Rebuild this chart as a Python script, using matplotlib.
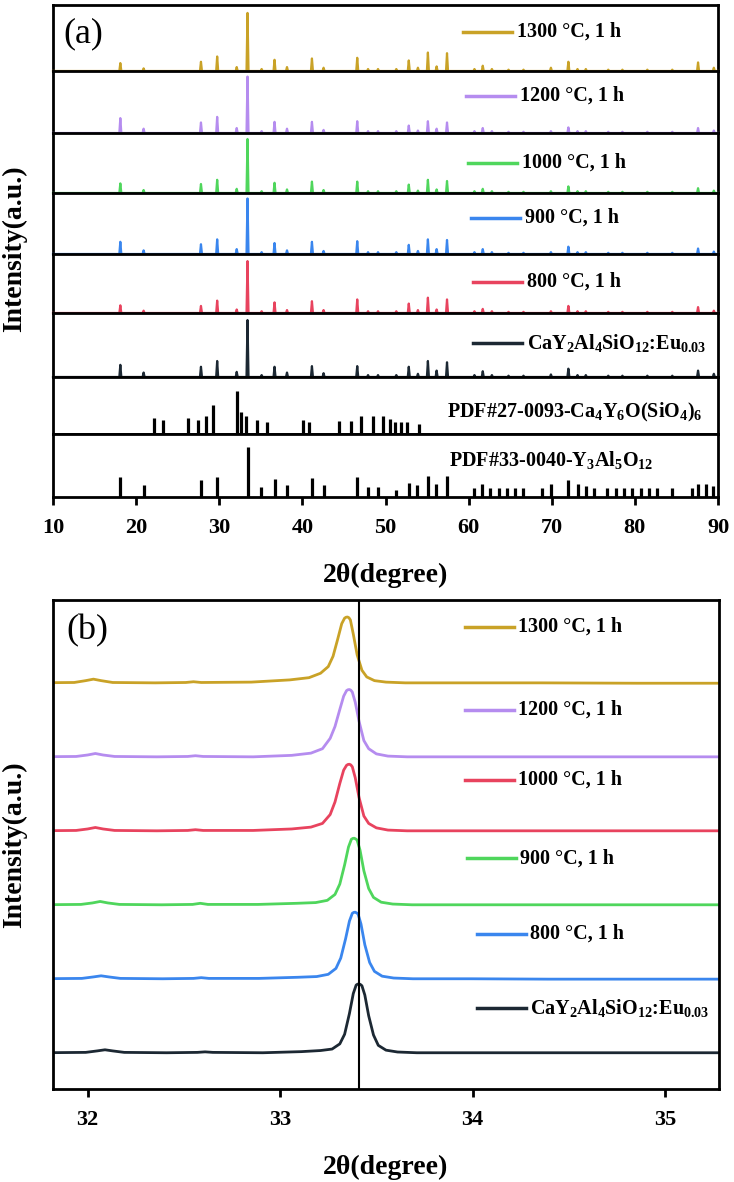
import matplotlib.pyplot as plt

plt.rcParams['font.family'] = 'Liberation Serif'
plt.rcParams['font.weight'] = 'bold'
plt.rcParams['axes.labelweight'] = 'bold'
plt.rcParams['mathtext.fontset'] = 'custom'
plt.rcParams['mathtext.rm'] = 'Liberation Serif:bold'
plt.rcParams['mathtext.default'] = 'regular'

# ---- (a) full XRD patterns ----
# peak positions (2theta) shared by the measured samples
peak_pos = [18.1, 20.9, 27.8, 29.75, 32.1, 33.4, 35.1, 36.65, 38.15, 41.15, 42.55, 46.6,
            47.9, 49.1, 51.3, 52.8, 53.9, 55.1, 56.15, 57.4, 60.7, 61.7, 62.8, 64.8,
            66.6, 69.9, 72.0, 73.1, 74.1, 76.8, 78.5, 81.5, 84.5, 87.6, 89.5]
# relative peak heights per sample (fraction of strip height)
h_1300 = [0.12, 0.04, 0.14, 0.22, 0.06, 0.88, 0.03, 0.17, 0.06, 0.19, 0.05, 0.2, 0.03, 0.03,
          0.03, 0.16, 0.05, 0.28, 0.07, 0.27, 0.03, 0.08, 0.03, 0.02, 0.02, 0.05, 0.14, 0.03,
          0.03, 0.02, 0.02, 0.02, 0.02, 0.13, 0.05]
h_1200 = [0.24, 0.07, 0.17, 0.26, 0.08, 0.91, 0.03, 0.18, 0.07, 0.18, 0.05, 0.19, 0.03, 0.03,
          0.03, 0.12, 0.04, 0.19, 0.07, 0.17, 0.03, 0.08, 0.03, 0.02, 0.02, 0.03, 0.09, 0.03,
          0.03, 0.02, 0.02, 0.02, 0.02, 0.08, 0.04]
h_1000 = [0.16, 0.05, 0.15, 0.22, 0.07, 0.9, 0.03, 0.17, 0.06, 0.19, 0.05, 0.19, 0.03, 0.03,
          0.03, 0.14, 0.04, 0.22, 0.06, 0.2, 0.03, 0.07, 0.03, 0.02, 0.02, 0.03, 0.11, 0.03,
          0.03, 0.02, 0.02, 0.02, 0.02, 0.08, 0.04]
h_900 = [0.2, 0.06, 0.16, 0.24, 0.08, 0.91, 0.03, 0.18, 0.06, 0.2, 0.05, 0.21, 0.03, 0.03,
         0.03, 0.15, 0.05, 0.24, 0.08, 0.23, 0.03, 0.08, 0.03, 0.02, 0.02, 0.03, 0.12, 0.03,
         0.03, 0.02, 0.02, 0.02, 0.02, 0.09, 0.04]
h_800 = [0.13, 0.04, 0.12, 0.21, 0.06, 0.88, 0.03, 0.18, 0.05, 0.2, 0.05, 0.23, 0.03, 0.03,
         0.03, 0.16, 0.05, 0.26, 0.06, 0.23, 0.03, 0.07, 0.03, 0.02, 0.02, 0.03, 0.12, 0.03,
         0.03, 0.02, 0.02, 0.02, 0.02, 0.1, 0.04]
h_base = [0.19, 0.07, 0.16, 0.25, 0.08, 0.89, 0.03, 0.16, 0.07, 0.17, 0.06, 0.17, 0.03, 0.03,
          0.03, 0.16, 0.05, 0.25, 0.1, 0.23, 0.03, 0.09, 0.03, 0.02, 0.02, 0.04, 0.13, 0.03,
          0.03, 0.02, 0.02, 0.02, 0.02, 0.1, 0.05]

# standard cards (stick patterns)
pdf27_pos = [22.1, 23.2, 26.3, 27.5, 28.4, 29.2, 32.1, 32.6, 33.2, 34.6, 35.8, 40.1, 40.8,
             44.4, 45.8, 47.0, 48.5, 49.7, 50.5, 51.2, 51.9, 52.6, 54.0]
pdf27_h = [0.28, 0.25, 0.28, 0.25, 0.32, 0.51, 0.75, 0.39, 0.32, 0.25, 0.21, 0.25, 0.21,
           0.23, 0.23, 0.32, 0.32, 0.32, 0.26, 0.21, 0.21, 0.21, 0.18]
pdf33_pos = [18.1, 20.9, 27.8, 29.75, 33.4, 35.05, 36.65, 38.15, 41.15, 42.55, 46.6, 47.9,
             49.1, 51.3, 52.8, 53.8, 55.1, 56.1, 57.4, 60.6, 61.6, 62.6, 63.6, 64.6, 65.6,
             66.6, 68.8, 69.9, 72.0, 73.1, 74.1, 75.1, 76.7, 77.7, 78.7, 79.7, 80.7, 81.7,
             82.7, 84.5, 86.9, 87.6, 88.6, 89.4]
pdf33_h = [0.32, 0.19, 0.27, 0.32, 0.79, 0.16, 0.29, 0.19, 0.3, 0.19, 0.32, 0.16, 0.16, 0.11,
           0.22, 0.19, 0.33, 0.21, 0.33, 0.14, 0.21, 0.14, 0.14, 0.14, 0.14, 0.14, 0.14, 0.21,
           0.27, 0.21, 0.17, 0.14, 0.14, 0.14, 0.14, 0.14, 0.14, 0.14, 0.14, 0.14, 0.14, 0.21,
           0.21, 0.17]

labels_a = ['1300 °C, 1 h', '1200 °C, 1 h', '1000 °C, 1 h', '900 °C, 1 h', '800 °C, 1 h',
            'CaY$_2$Al$_4$SiO$_{12}$:Eu$_{0.03}$']
colors_a = ['#C9A227', '#B58CEF', '#4FD65C', '#3A86EE', '#E8435E', '#1C2833']
heights_a = [h_1300, h_1200, h_1000, h_900, h_800, h_base]

# ---- (b) zoom on the strongest reflection ----
dx_b = [-1.65, -1.42, -1.36, -1.32, -1.28, -1.22, -1.0, -0.84, -0.8, -0.76, -0.5, -0.3,
        -0.2, -0.14, -0.1, -0.075, -0.05, -0.03, -0.015, -0.0075, 0, 0.0075, 0.015, 0.03,
        0.05, 0.075, 0.1, 0.14, 0.2, 0.3, 0.6, 1.0, 1.5, 2.0]
centers_b = [33.35, 33.36, 33.36, 33.385, 33.39, 33.41]
y_1300 = [0, 0.005, 0.03, 0.05, 0.03, 0.005, 0, 0.005, 0.015, 0.005, 0.01, 0.04, 0.07, 0.13,
          0.22, 0.36, 0.6, 0.8, 0.875, 0.887, 0.89, 0.88, 0.85, 0.66, 0.38, 0.17, 0.08, 0.03,
          0.01, 0, 0, 0, -0.005, -0.005]
y_1200 = [0, 0.005, 0.025, 0.045, 0.025, 0.005, 0, 0.005, 0.015, 0.005, 0, 0.02, 0.05, 0.11,
          0.25, 0.41, 0.64, 0.82, 0.895, 0.907, 0.91, 0.9, 0.875, 0.74, 0.48, 0.22, 0.11,
          0.04, 0.01, 0, 0, 0, 0, 0]
y_1000 = [0, 0.005, 0.025, 0.045, 0.025, 0.005, 0, 0.005, 0.015, 0.005, 0.005, 0.025, 0.05,
          0.1, 0.22, 0.39, 0.64, 0.82, 0.885, 0.897, 0.9, 0.89, 0.865, 0.72, 0.45, 0.2, 0.1,
          0.04, 0.01, 0, 0, 0, 0, 0]
y_900 = [0, 0.005, 0.025, 0.045, 0.025, 0.005, 0, 0.005, 0.02, 0.005, 0.005, 0.02, 0.03, 0.06,
         0.14, 0.28, 0.54, 0.78, 0.885, 0.897, 0.9, 0.89, 0.875, 0.74, 0.46, 0.22, 0.1, 0.035,
         0.01, 0, 0, 0, 0, 0]
y_800 = [0, 0.005, 0.025, 0.04, 0.025, 0.005, 0, 0.005, 0.015, 0.005, 0.005, 0.02, 0.03, 0.06,
         0.14, 0.28, 0.54, 0.78, 0.885, 0.897, 0.9, 0.89, 0.875, 0.74, 0.46, 0.22, 0.1, 0.035,
         0.01, 0, 0, -0.005, -0.005, -0.005]
y_base = [0, 0.005, 0.025, 0.04, 0.025, 0.005, 0, 0.005, 0.012, 0.005, 0, 0.015, 0.03, 0.05,
          0.12, 0.25, 0.53, 0.8, 0.915, 0.927, 0.93, 0.922, 0.905, 0.78, 0.5, 0.24, 0.1, 0.035,
          0.01, 0, 0, 0, 0, 0]
labels_b = ['1300 °C, 1 h', '1200 °C, 1 h', '1000 °C, 1 h', '900 °C, 1 h', '800 °C, 1 h',
            'CaY$_2$Al$_4$SiO$_{12}$:Eu$_{0.03}$']
colors_b = ['#C9A227', '#B58CEF', '#E8435E', '#4FD65C', '#3A86EE', '#1C2833']
curves_b = [y_1300, y_1200, y_1000, y_900, y_800, y_base]
ref_line = 33.41

W, H = 734, 1182
fig = plt.figure(figsize=(W / 100, H / 100), dpi=100)

# strip boundaries of panel (a) in pixels
bounds = [5, 71, 133, 193, 254, 313, 377, 434, 497]
left, right = 53, 718
axes_a = []
for k in range(8):
    ax = fig.add_axes([left / W, 1 - bounds[k + 1] / H, (right - left) / W,
                       (bounds[k + 1] - bounds[k]) / H])
    ax.set_xlim(10, 90)
    ax.set_ylim(0, 1)
    ax.set_yticks([])
    for s in ax.spines.values():
        s.set_linewidth(2)
    if k < 7:
        ax.set_xticks([])
    axes_a.append(ax)

# measured patterns
leg_y = [0.59, 0.6, 0.5, 0.59, 0.53, 0.53]
leg_x = [517, 520, 522, 525, 527, 527]
for k in range(6):
    ax = axes_a[k]
    xs, ys = [10], [0]
    for p, h in zip(peak_pos, heights_a[k]):
        xs += [p - 0.12, p, p + 0.12]
        ys += [0, h, 0]
    xs.append(90)
    ys.append(0)
    ax.plot(xs, ys, color=colors_a[k], lw=1.6, clip_on=False, zorder=3)
    x0 = (leg_x[k] - 53) / (right - left)
    ax.plot([x0 - 0.081, x0 - 0.007], [leg_y[k], leg_y[k]], color=colors_a[k], lw=2.5,
            transform=ax.transAxes)
    ax.text(x0, leg_y[k], labels_a[k], transform=ax.transAxes, fontsize=14.5,
            va='center', ha='left')

# stick patterns
axes_a[6].vlines(pdf27_pos, 0, pdf27_h, color='black', lw=2.3)
axes_a[6].text((447 - 53) / (right - left), 0.37, 'PDF#27-0093-Ca$_4$Y$_6$O(SiO$_4$)$_6$',
               transform=axes_a[6].transAxes, fontsize=14.5, va='center', ha='left')
axes_a[7].vlines(pdf33_pos, 0, pdf33_h, color='black', lw=2.3)
axes_a[7].text((449 - 53) / (right - left), 0.59, 'PDF#33-0040-Y$_3$Al$_5$O$_{12}$',
               transform=axes_a[7].transAxes, fontsize=14.5, va='center', ha='left')

axb = axes_a[7]
axb.set_xticks(range(10, 91, 10))
axb.tick_params(axis='x', direction='out', length=6, width=2, labelsize=16, pad=9)
axb.set_xlabel('2θ(degree)', fontsize=20, fontweight='bold', labelpad=18)
axes_a[0].text(0.015, 0.57, '(a)', transform=axes_a[0].transAxes, fontsize=26,
               fontweight='normal', va='center', ha='left')
fig.text(15 / W, 1 - 249 / H, 'Intensity(a.u.)', rotation=90, fontsize=20,
         va='center', ha='center')

# ---- panel (b) ----
ax2 = fig.add_axes([53 / W, 1 - 1089 / H, 666 / W, 489 / H])
for k in range(6):
    off = 5 - k
    xs = [centers_b[k] + d for d in dx_b]
    ys = [off + v for v in curves_b[k]]
    ax2.plot(xs, ys, color=colors_b[k], lw=2)
ax2.axvline(ref_line, color='black', lw=1.5)
ax2.set_xlim(31.82, 35.28)
ax2.set_ylim(-0.49, 6.12)
ax2.set_yticks([])
ax2.set_xticks([32, 33, 34, 35])
ax2.tick_params(axis='x', direction='out', length=6, width=2, labelsize=16, pad=9)
for s in ax2.spines.values():
    s.set_linewidth(2)
ax2.set_xlabel('2θ(degree)', fontsize=20, fontweight='bold', labelpad=18)
ax2.text(0.02, 0.937, '(b)', transform=ax2.transAxes, fontsize=26, fontweight='normal',
         va='center', ha='left')

leg_yb = [0.945, 0.775, 0.632, 0.472, 0.317, 0.166]
leg_xb = [518, 518, 518, 520, 530, 530]
for k in range(6):
    x0 = (leg_xb[k] - 53) / 666
    ax2.plot([x0 - 0.08, x0 - 0.006], [leg_yb[k], leg_yb[k]], color=colors_b[k], lw=2.5,
             transform=ax2.transAxes)
    ax2.text(x0, leg_yb[k], labels_b[k], transform=ax2.transAxes, fontsize=14.5,
             va='center', ha='left')

fig.text(15 / W, 1 - 845 / H, 'Intensity(a.u.)', rotation=90, fontsize=20,
         va='center', ha='center')

fig.savefig('out.png', dpi=100)
